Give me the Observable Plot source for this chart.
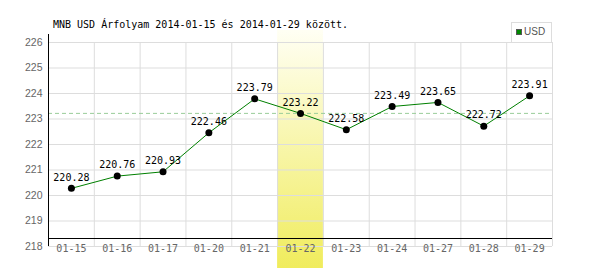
<!DOCTYPE html>
<html><head><meta charset="utf-8">
<script src="https://cdn.jsdelivr.net/npm/d3@7"></script>
<script src="https://cdn.jsdelivr.net/npm/@observablehq/plot@0.6"></script>
<style>
body{margin:0;background:#fff;}
#wrap{position:relative;width:600px;height:270px;}
#title{position:absolute;left:53px;top:19px;font:10px "DejaVu Sans Mono",monospace;color:#000;white-space:pre;line-height:12px;}
#legend{position:absolute;left:511px;top:22px;width:41px;height:20px;box-sizing:border-box;border:1px solid #ddd;border-bottom:none;background:#fff;font:10px "Liberation Sans",Arial,sans-serif;color:#555;}
#legend .sw{position:absolute;left:4px;top:6px;width:6px;height:6px;background:#080;border:1px solid #555;box-sizing:border-box;}
#legend .lb{position:absolute;left:12px;top:3px;line-height:12px;}
svg{display:block;}
</style>
</head><body>
<div id="wrap">
<div id="chart"></div>
<div id="title"></div>
<div id="legend"><div class="sw"></div><div class="lb"></div></div>
</div>
<script>
const titleText = "MNB USD Árfolyam 2014-01-15 és 2014-01-29 között.";
const seriesName = "USD";
const dates = ["01-15","01-16","01-17","01-20","01-21","01-22","01-23","01-24","01-27","01-28","01-29"];
const rates = [220.28,220.76,220.93,222.46,223.79,223.22,222.58,223.49,223.65,222.72,223.91];
const yTicks = [218,219,220,221,222,223,224,225,226];
const highlightDate = "01-22";
const refRate = 223.22;

document.getElementById("title").textContent = titleText;
document.querySelector("#legend .lb").textContent = seriesName;

const data = dates.map((d, i) => ({i, date: d, rate: rates[i]}));
const n = dates.length;
const bounds = d3.range(n + 1).map(i => i - 0.5);
const hi = dates.indexOf(highlightDate);
const yMin = d3.min(yTicks), yMax = d3.max(yTicks);
const mono = "'DejaVu Sans Mono', monospace";

const chart = Plot.plot({
  width: 600, height: 270,
  marginLeft: 48, marginRight: 48, marginTop: 42, marginBottom: 24,
  style: {background: "transparent", overflow: "visible"},
  x: {domain: [-0.5, n - 0.5], label: null},
  y: {domain: [yMin, yMax], label: null},
  marks: [
    Plot.rect([hi], {x1: d => d - 0.5, x2: d => d + 0.5, y1: yMin, y2: yMax, fill: "url(#hlgrad)", insetTop: -12, insetBottom: -22}),
    Plot.ruleY(yTicks, {stroke: "#ddd"}),
    Plot.ruleX(bounds, {stroke: "#ddd"}),
    Plot.ruleY([refRate], {stroke: "#99cc99", strokeDasharray: "4,3"}),
    Plot.ruleX([bounds[0]], {y1: yMin, y2: yMax, stroke: "#000", insetBottom: 8}),
    Plot.ruleY([yMin], {stroke: "#000", dy: -8}),
    Plot.line(data, {x: "i", y: "rate", stroke: "#008000", strokeWidth: 1}),
    Plot.dot(data, {x: "i", y: "rate", r: 3.5, fill: "#000"}),
    Plot.text(data, {x: "i", y: "rate", text: d => d.rate.toFixed(2), dy: -11, fontFamily: mono, fontSize: 10, fill: "#000"}),
    Plot.axisY({ticks: yTicks, tickSize: 0, tickPadding: 6, fill: "#666", fontSize: 10.5, fontFamily: "'Liberation Sans', Arial, sans-serif", label: null}),
    Plot.axisX({ticks: d3.range(n), tickFormat: i => dates[i], tickSize: 0, tickPadding: -2, fill: "#666", fontSize: 10, fontFamily: mono, label: null})
  ]
});

const defs = d3.select(chart).insert("defs", ":first-child");
const g = defs.append("linearGradient").attr("id", "hlgrad").attr("x1", 0).attr("y1", 0).attr("x2", 0).attr("y2", 1);
g.append("stop").attr("offset", "0%").attr("stop-color", "#fffff4");
g.append("stop").attr("offset", "100%").attr("stop-color", "#f0ec5c");

document.getElementById("chart").appendChild(chart);
</script>
</body></html>
